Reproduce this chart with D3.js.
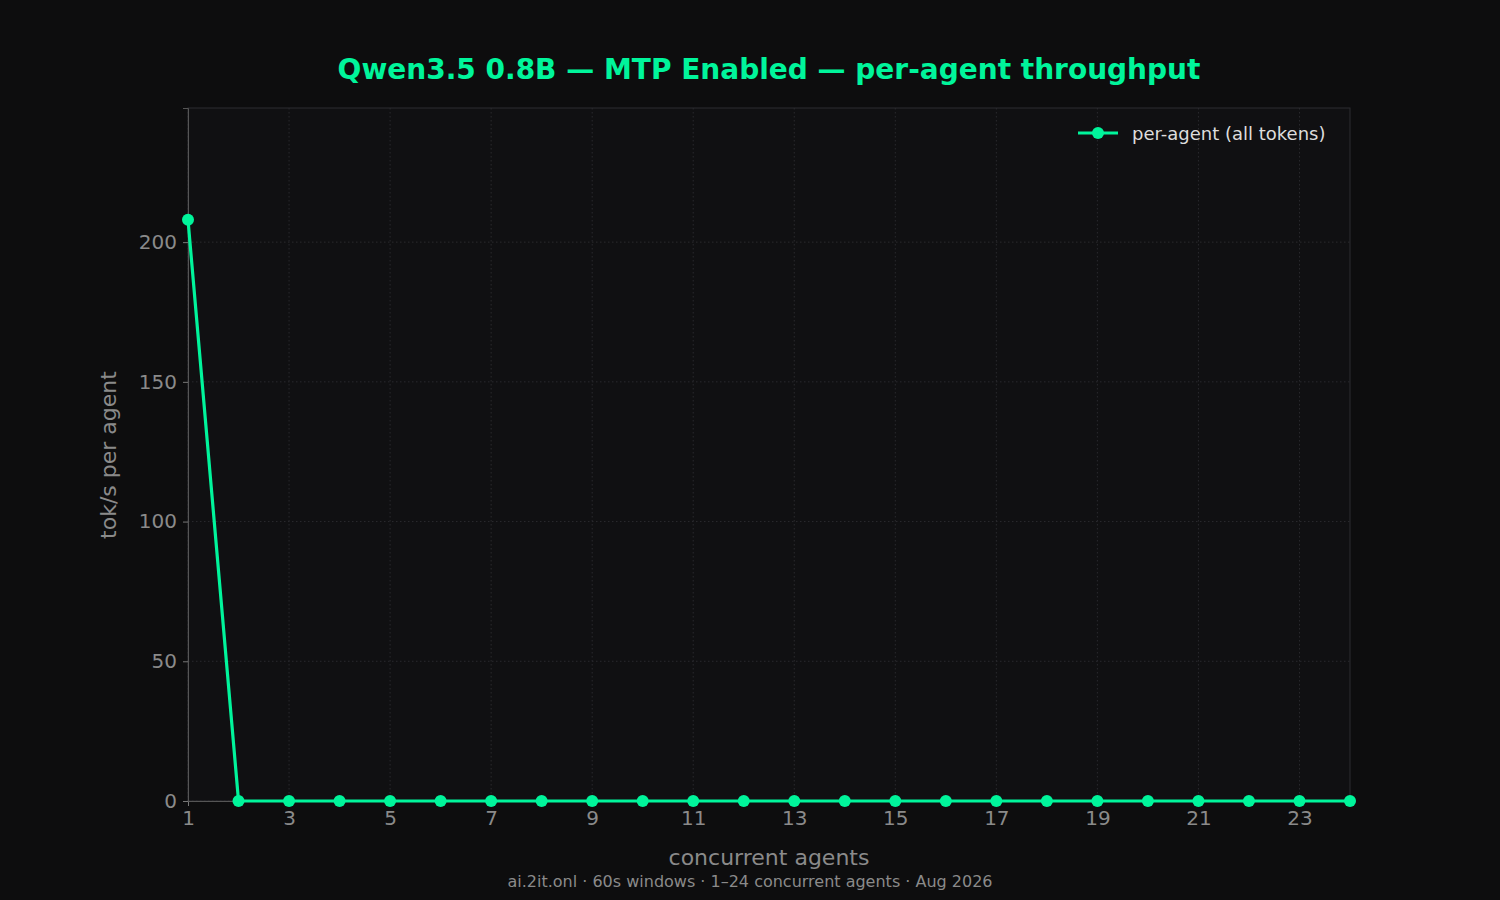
<!DOCTYPE html>
<html><head><meta charset="utf-8">
<script src="https://cdn.jsdelivr.net/npm/d3@7"></script>
<style>body{margin:0;background:#0d0d0e;}svg{display:block;font-family:"DejaVu Sans",sans-serif;}</style>
</head><body>
<svg id="c" width="1500" height="900"></svg>
<script>
const agents = d3.range(1,25);
const perAgent = [208,0,0,0,0,0,0,0,0,0,0,0,0,0,0,0,0,0,0,0,0,0,0,0];
const xTicks = [1,3,5,7,9,11,13,15,17,19,21,23];
const yTicks = [0,50,100,150,200];

const svg = d3.select("#c");
const m = {l:188, r:1350, t:108, b:801};
svg.append("rect").attr("width",1500).attr("height",900).attr("fill","#0d0d0e");
svg.append("rect").attr("x",m.l).attr("y",m.t).attr("width",m.r-m.l).attr("height",m.b-m.t).attr("fill","#101012");
const x = d3.scaleLinear().domain([1,24]).range([m.l,m.r]);
const y = d3.scaleLinear().domain([0,248]).range([m.b,m.t]);

const g = svg.append("g");
g.selectAll(".gx").data(xTicks).join("line").attr("x1",d=>x(d)).attr("x2",d=>x(d)).attr("y1",m.t).attr("y2",m.b)
 .attr("stroke","#2a2a2e").attr("stroke-dasharray","1.5,2.5");
g.selectAll(".gy").data(yTicks).join("line").attr("y1",d=>y(d)).attr("y2",d=>y(d)).attr("x1",m.l).attr("x2",m.r)
 .attr("stroke","#2a2a2e").attr("stroke-dasharray","1.5,2.5");
svg.append("rect").attr("x",m.l).attr("y",m.t).attr("width",m.r-m.l).attr("height",m.b-m.t).attr("fill","none").attr("stroke","#2c2c30");

const xa = svg.append("g").attr("transform",`translate(0,${m.b})`).call(d3.axisBottom(x).tickValues(xTicks).tickSize(5).tickPadding(5));
const ya = svg.append("g").attr("transform",`translate(${m.l},0)`).call(d3.axisLeft(y).tickValues(yTicks).tickSize(5).tickPadding(6));
[xa,ya].forEach(a=>{a.attr("font-size",null).attr("font-family",null);
 a.select(".domain").attr("stroke","#555");a.selectAll(".tick line").attr("stroke","#777");
 a.selectAll("text").attr("fill","#8a8a8a").style("font-size","20px").style("font-family","DejaVu Sans");});

const color="#00f59b";
svg.append("path").datum(perAgent).attr("fill","none").attr("stroke",color).attr("stroke-width",3.2)
 .attr("d",d3.line().x((d,i)=>x(agents[i])).y(d=>y(d)));
svg.selectAll(".pt").data(perAgent).join("circle").attr("cx",(d,i)=>x(agents[i])).attr("cy",d=>y(d)).attr("r",6).attr("fill",color);

svg.append("text").attr("x",769).attr("y",79).attr("text-anchor","middle").attr("fill",color)
 .style("font-size","28px").attr("font-weight","bold").text("Qwen3.5 0.8B — MTP Enabled — per-agent throughput");
svg.append("text").attr("x",769).attr("y",865).attr("text-anchor","middle").attr("fill","#8a8a8a").style("font-size","22px").text("concurrent agents");
svg.append("text").attr("transform","translate(116,455) rotate(-90)").attr("text-anchor","middle").attr("fill","#8a8a8a").style("font-size","22px").text("tok/s per agent");
svg.append("text").attr("x",750).attr("y",887).attr("text-anchor","middle").attr("fill","#8a8a8a").style("font-size","16px").text("ai.2it.onl · 60s windows · 1–24 concurrent agents · Aug 2026");

svg.append("line").attr("x1",1078).attr("x2",1118).attr("y1",133).attr("y2",133).attr("stroke",color).attr("stroke-width",3.2);
svg.append("circle").attr("cx",1098).attr("cy",133).attr("r",6).attr("fill",color);
svg.append("text").attr("x",1132).attr("y",140).attr("fill","#ddd").style("font-size","18px").text("per-agent (all tokens)");
</script>
</body></html>
